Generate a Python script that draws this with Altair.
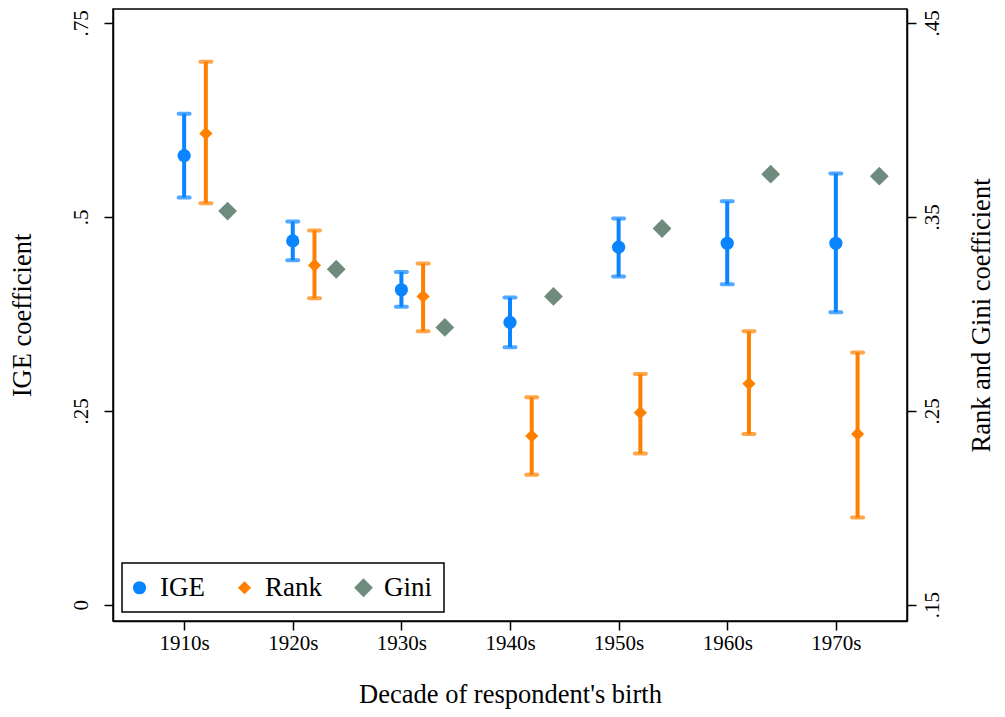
import altair as alt
import pandas as pd

# ---- data ----
decades = [1910, 1920, 1930, 1940, 1950, 1960, 1970]

ige = [0.579, 0.469, 0.406, 0.364, 0.461, 0.466, 0.466]
ige_lo = [0.525, 0.444, 0.384, 0.332, 0.423, 0.413, 0.377]
ige_hi = [0.633, 0.494, 0.429, 0.396, 0.498, 0.520, 0.556]

rank = [0.393, 0.325, 0.309, 0.237, 0.249, 0.264, 0.238]
rank_lo = [0.357, 0.308, 0.291, 0.217, 0.228, 0.238, 0.195]
rank_hi = [0.430, 0.343, 0.326, 0.257, 0.269, 0.291, 0.280]

gini = [0.353, 0.323, 0.293, 0.309, 0.344, 0.372, 0.371]

series_names = ["IGE", "Rank", "Gini"]
left_ticks = [0, 0.25, 0.5, 0.75]
right_ticks = [0.15, 0.25, 0.35, 0.45]

IGE_C = "#0A84FF"
RANK_C = "#FF8000"
GINI_C = "#6E8B7E"
FONT = "Liberation Serif"
BIG_DIAMOND = "M-1.42,0L0,-1.42L1.42,0L0,1.42Z"

ige_df = pd.DataFrame({"decade": decades, "val": ige, "lo": ige_lo, "hi": ige_hi, "series": "IGE"})
rank_df = pd.DataFrame({"decade": decades, "val": rank, "lo": rank_lo, "hi": rank_hi, "series": "Rank"})
gini_df = pd.DataFrame({"decade": decades, "val": gini, "series": "Gini"})

xscale = alt.Scale(domain=[1903.45, 1976.55], nice=False, zero=False)
xaxis = alt.Axis(values=decades, labelExpr="datum.value + 's'", title="Decade of respondent's birth",
                 labelPadding=2, titlePadding=28, labelFontSize=21, titleFontSize=26.5)

yl_scale = alt.Scale(domain=[-0.021, 0.768], nice=False, zero=False)
yr_scale = alt.Scale(domain=[0.1416, 0.4572], nice=False, zero=False)

lab_expr = "datum.value == 0 ? '0' : substring(format(datum.value, '.2~f'), 1)"
left_axis = alt.Axis(orient="left", values=left_ticks, labelExpr=lab_expr, labelAngle=270,
                     labelAlign="center", labelBaseline="bottom", labelPadding=13,
                     labelFontSize=21, title="IGE coefficient", titleFontSize=26.5, titlePadding=34)
right_axis = alt.Axis(orient="right", values=right_ticks, labelExpr=lab_expr, labelAngle=270,
                      labelAlign="center", labelBaseline="top", labelPadding=5,
                      labelFontSize=21, title="Rank and Gini coefficient", titleFontSize=26.5,
                      titleAngle=270, titleBaseline="top", titlePadding=26)

color_scale = alt.Scale(domain=series_names, range=[IGE_C, RANK_C, GINI_C])
shape_scale = alt.Scale(domain=series_names, range=["circle", "diamond", BIG_DIAMOND])
legend = alt.Legend(title=None, orient="bottom-left", offset=9, direction="horizontal")

def err_layer(df, color, yscale, yaxis, shift):
    return alt.Chart(df).transform_calculate(xpos=f"datum.decade + {shift}").mark_errorbar(
        color=color, ticks={"size": 15, "thickness": 4, "cornerRadius": 2}, rule={"strokeWidth": 4}
    ).encode(
        x=alt.X("xpos:Q", scale=xscale, axis=xaxis),
        y=alt.Y("lo:Q", scale=yscale, axis=yaxis),
        y2="hi:Q",
    )

def pt_layer(df, yscale, yaxis, shift):
    return alt.Chart(df).transform_calculate(xpos=f"datum.decade + {shift}").mark_point(
        filled=True, opacity=1, size=175
    ).encode(
        x=alt.X("xpos:Q", scale=xscale, axis=xaxis),
        y=alt.Y("val:Q", scale=yscale, axis=yaxis),
        color=alt.Color("series:N", scale=color_scale, legend=legend),
        shape=alt.Shape("series:N", scale=shape_scale, legend=legend),
    )

left = alt.layer(
    err_layer(ige_df, IGE_C, yl_scale, left_axis, 0),
    pt_layer(ige_df, yl_scale, left_axis, 0),
)
right = alt.layer(
    err_layer(rank_df, RANK_C, yr_scale, right_axis, 2),
    pt_layer(rank_df, yr_scale, right_axis, 2),
    pt_layer(gini_df, yr_scale, right_axis, 4),
)

chart = alt.layer(left, right).resolve_scale(y="independent").properties(
    width=794, height=612,
    autosize=alt.AutoSizeParams(type="none"),
    padding={"left": 105, "top": 1, "right": 90, "bottom": 88},
).configure_view(
    stroke="black", strokeWidth=1.5
).configure_axis(
    grid=False, domainColor="black", domainWidth=1.5, tickColor="black", tickWidth=1.5, tickSize=9,
    labelFont=FONT, titleFont=FONT, labelColor="black", titleColor="black", titleFontWeight="normal",
).configure_legend(
    labelFont=FONT, labelFontSize=27, labelColor="black", strokeColor="black", strokeWidth=1.5,
    fillColor="white", padding=11, columnPadding=32, labelOffset=7, symbolOffset=-7,
    symbolSize=175, symbolStrokeWidth=0,
)

chart.save("out.html", embed_options={"renderer": "svg", "actions": False})
